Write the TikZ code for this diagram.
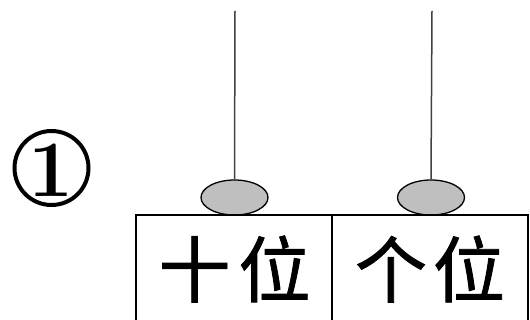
\documentclass[tikz,border=0pt]{standalone}
\usepackage{fontspec}
\newfontfamily\cjk[FakeBold=1.2]{Noto Sans CJK SC}
\usetikzlibrary{shapes.geometric}
\tikzset{
  rod/.style={line width=1.5pt, draw=black!75},
  bead/.style={ellipse, draw=black, line width=1.3pt, fill=black!25, minimum width=67pt, minimum height=35pt, inner sep=0pt},
  frame/.style={line width=1.5pt, draw=black},
  label/.style={font=\cjk\fontsize{72}{72}\selectfont, inner sep=0pt},
}
\begin{document}
\begin{tikzpicture}[x=1pt,y=-1pt]
\useasboundingbox (0,0) rectangle (530,320);
% circled number
\node[circle, draw=black, line width=4pt, minimum size=74pt, inner sep=0pt] (num) at (51.5,168) {};
\node[font=\fontsize{80}{80}\selectfont\bfseries, inner sep=0pt] (one) at (51.5,170) {1};
% rods
\coordinate (r1top) at (235,11);
\coordinate (r2top) at (432,11);
\node[bead] (b1) at (234.5,197.5) {};
\node[bead] (b2) at (431,197.5) {};
\draw[rod] (r1top) -- (b1.north);
\draw[rod] (r2top) -- (b2.north);
% box
\coordinate (bl) at (136,330);
\coordinate (tl) at (136,215);
\coordinate (tr) at (528,215);
\coordinate (br) at (528,330);
\coordinate (dt) at (332,215);
\coordinate (db) at (332,330);
\draw[frame] (bl) -- (tl) -- (tr) -- (br);
\draw[frame] (dt) -- (db);
\node[label] (tens) at (234.5,269) {十\hspace{8pt}位};
\node[label] (ones) at (430,269) {个\hspace{6pt}位};
\end{tikzpicture}
\end{document}
